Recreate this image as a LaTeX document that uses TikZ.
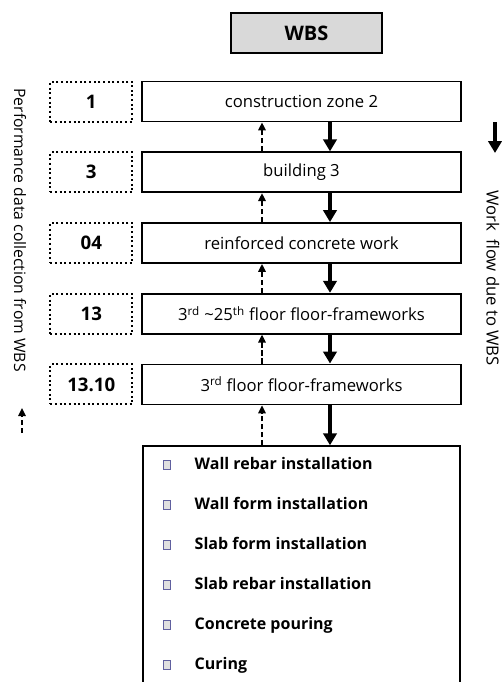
\documentclass[tikz,border=0pt]{standalone}
\usepackage{fontspec}
\setmainfont{Open Sans}
\usetikzlibrary{positioning,arrows.meta,calc}

\tikzset{
  wbsbox/.style={draw, line width=1.8pt, fill=black!15, minimum width=113pt, minimum height=30pt, font=\fontsize{15}{18}\selectfont\bfseries},
  levelbox/.style={draw, line width=1.3pt, minimum width=239pt, minimum height=30pt, font=\fontsize{12.5}{15}\selectfont},
  codebox/.style={draw, dotted, line width=1.5pt, minimum width=61.5pt, minimum height=30pt, font=\fontsize{14}{17}\selectfont\bfseries},
  flowdown/.style={-{Triangle[width=10pt,length=9pt]}, line width=3.2pt},
  collectup/.style={-{Triangle[width=5.5pt,length=6pt]}, line width=1.5pt, dash pattern=on 4pt off 2pt},
  taskitem/.style={anchor=west, text height=9pt, text depth=2.5pt, font=\fontsize{12}{14}\selectfont\bfseries},
  taskmark/.style={draw=blue!25!gray, fill=black!12, line width=0.8pt, minimum width=5.5pt, minimum height=7pt, inner sep=0pt},
  sidetext/.style={rotate=-90, font=\fontsize{11.8}{14}\selectfont}
}

\begin{document}
\begin{tikzpicture}[x=0.75pt, y=-0.75pt, node distance=21.75pt]
    \path[use as bounding box, clip] (0,0) rectangle (502,682);
    % WBS header
    \node[wbsbox] (wbs) at (306.5,33) {WBS};
    % levels of the breakdown
    \node[levelbox] (r1) at (301.5,101.5) {construction zone 2};
    \node[levelbox, below=of r1] (r2) {building 3};
    \node[levelbox, below=of r2] (r3) {reinforced concrete work};
    \node[levelbox, below=of r3] (r4) {3\textsuperscript{rd} \textasciitilde25\textsuperscript{th} floor floor-frameworks};
    \node[levelbox, below=of r4] (r5) {3\textsuperscript{rd} floor floor-frameworks};
    % codes
    \node[codebox, left=6pt of r1] (c1) {1};
    \node[codebox, left=6pt of r2] (c2) {3};
    \node[codebox, left=6pt of r3] (c3) {04};
    \node[codebox, left=6pt of r4] (c4) {13};
    \node[codebox, left=6pt of r5] (c5) {13.10};
    % activities
    \node[draw, line width=1.3pt, minimum width=238pt, minimum height=200pt, below=30pt of r5, anchor=north] (tasks) {};
    \foreach \txt [count=\i] in {Wall rebar installation, Wall form installation, Slab form installation, Slab rebar installation, Concrete pouring, Curing} {
        \node[taskmark] (m\i) at (167,425+40*\i) {};
        \node[taskitem] (t\i) at (190,425+40*\i) {\txt};
    }
    % connectors between levels
    \coordinate (upx) at (262,0);
    \coordinate (dnx) at (330,0);
    \foreach \a/\b in {r1/r2, r2/r3, r3/r4, r4/r5, r5/tasks} {
        \draw[collectup] (upx |- \b.north) -- (upx |- \a.south);
        \draw[flowdown] (dnx |- \a.south) -- (dnx |- \b.north);
    }
    % side legends
    \node[sidetext] (collect) at (20,230) {Performance data collection from WBS};
    \coordinate (collectfoot) at (22,433);
    \coordinate (collecthead) at (22,408);
    \draw[collectup] (collectfoot) -- (collecthead);
    \node[sidetext, font=\fontsize{12.5}{15}\selectfont] (flow) at (493,278) {Work\hspace{3pt} flow due to WBS};
    \coordinate (flowtop) at (495,122);
    \coordinate (flowend) at (495,153);
    \draw[flowdown] (flowtop) -- (flowend);
\end{tikzpicture}
\end{document}
